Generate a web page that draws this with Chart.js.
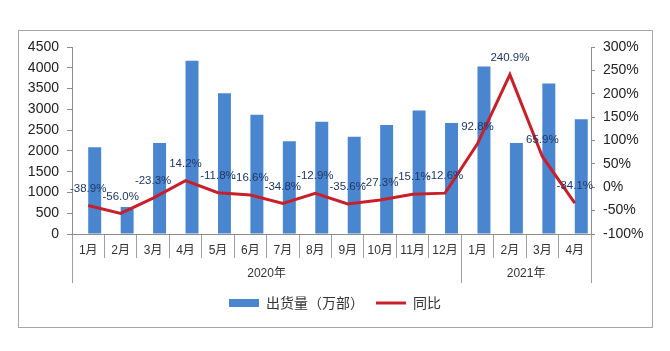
<!DOCTYPE html>
<html>
<head>
<meta charset="utf-8">
<script src="https://cdn.jsdelivr.net/npm/chart.js@4/dist/chart.umd.min.js"></script>
<style>
  body { margin: 0; background: #fff; }
  #wrap { position: relative; width: 670px; height: 351px; }
  #frame { position: absolute; left: 18px; top: 30px; width: 633px; height: 296px; border: 1px solid #a6a6a6; }
  #wrap canvas { position: absolute; left: 0; top: 0; }
</style>
</head>
<body>
<div id="wrap">
  <div id="frame"></div>
  <canvas id="c"></canvas>
</div>
<script>
// du lieu
const months = ["1月","2月","3月","4月","5月","6月","7月","8月","9月","10月","11月","12月","1月","2月","3月","4月"];
const years = ["2020年","2021年"];
const yearSpans = [12, 4];
const shipments = [2090, 650, 2190, 4170, 3390, 2870, 2230, 2700, 2340, 2620, 2970, 2670, 4030, 2190, 3620, 2760];
const yoy = [-38.9, -56.0, -23.3, 14.2, -11.8, -16.6, -34.8, -12.9, -35.6, -27.3, -15.1, -12.6, 92.8, 240.9, 65.9, -34.1];
const spacer = months.map(() => null);

const FONT = "'Liberation Sans', 'Noto Sans CJK SC', sans-serif";
const CJK = "'Noto Sans CJK SC', sans-serif";

// nhan du lieu tren duong
const lineLabels = {
  id: "lineLabels",
  afterDatasetsDraw(chart) {
    const meta = chart.getDatasetMeta(2);
    const ctx = chart.ctx;
    ctx.save();
    ctx.font = "11.5px " + FONT;
    ctx.fillStyle = "#1f3864";
    ctx.textAlign = "center";
    ctx.textBaseline = "middle";
    meta.data.forEach((pt, i) => {
      ctx.fillText(yoy[i].toFixed(1) + "%", pt.x, pt.y - 17);
    });
    ctx.restore();
  }
};

// nhan nam va vach chia
const yearAxis = {
  id: "yearAxis",
  afterDraw(chart) {
    const x = chart.scales.x;
    const ctx = chart.ctx;
    const half = (x.getPixelForValue(1) - x.getPixelForValue(0)) / 2;
    const base = chart.chartArea.bottom;
    ctx.save();
    ctx.strokeStyle = "#a0a0a0";
    ctx.lineWidth = 1;
    ctx.font = "12px " + FONT;
    ctx.fillStyle = "#333";
    ctx.textAlign = "center";
    ctx.textBaseline = "middle";
    let idx = 0;
    const edges = [x.getPixelForValue(0) - half];
    years.forEach((y, k) => {
      const s = x.getPixelForValue(idx) - half;
      const e = x.getPixelForValue(idx + yearSpans[k] - 1) + half;
      edges.push(e);
      ctx.fillText(y, (s + e) / 2, base + 40);
      idx += yearSpans[k];
    });
    edges.forEach(px => {
      ctx.beginPath();
      ctx.moveTo(Math.round(px) + 0.5, base + 24);
      ctx.lineTo(Math.round(px) + 0.5, base + 49);
      ctx.stroke();
    });
    ctx.restore();
  }
};

new Chart(document.getElementById("c"), {
  type: "bar",
  data: {
    labels: months,
    datasets: [
      {
        label: "",
        data: spacer,
        backgroundColor: "rgba(0,0,0,0)",
        order: 1
      },
      {
        label: "出货量（万部）",
        data: shipments,
        backgroundColor: "#4a86cf",
        borderWidth: 0,
        pointStyle: "rect",
        yAxisID: "y",
        order: 1
      },
      {
        type: "line",
        label: "同比",
        data: yoy,
        borderColor: "#c8202a",
        backgroundColor: "#c8202a",
        borderWidth: 3,
        pointRadius: 0,
        pointStyle: "line",
        tension: 0,
        yAxisID: "y1",
        order: 0
      }
    ]
  },
  options: {
    responsive: true,
    maintainAspectRatio: false,
    animation: false,
    datasets: { bar: { categoryPercentage: 0.8, barPercentage: 1.0 } },
    layout: { padding: { top: 47, bottom: 31, left: 0, right: 0 } },
    plugins: {
      tooltip: { enabled: false },
      legend: {
        position: "bottom",
        labels: {
          usePointStyle: true,
          pointStyleWidth: 30,
          boxHeight: 8,
          padding: 12,
          color: "#333",
          font: { family: CJK, size: 14 },
          filter: item => item.text !== "",
          sort: (a, b) => a.datasetIndex - b.datasetIndex
        }
      }
    },
    scales: {
      x: {
        offset: true,
        grid: {
          display: true,
          offset: true,
          drawOnChartArea: false,
          tickLength: 24,
          color: "#a0a0a0"
        },
        border: { color: "#8c8c8c" },
        ticks: {
          padding: -15,
          color: "#333",
          maxRotation: 0,
          autoSkip: false,
          font: { family: FONT, size: 12 }
        },
        afterFit(s) { s.height = 50; }
      },
      y: {
        position: "left",
        min: 0,
        max: 4500,
        ticks: {
          stepSize: 500,
          padding: 8,
          color: "#222",
          font: { family: FONT, size: 14 },
          callback: v => String(v)
        },
        grid: { drawOnChartArea: false, tickLength: 5, color: "#8c8c8c" },
        border: { color: "#8c8c8c" },
        afterFit(s) { s.width = 72; }
      },
      y1: {
        position: "right",
        min: -100,
        max: 300,
        ticks: {
          stepSize: 50,
          padding: 8,
          color: "#222",
          font: { family: FONT, size: 14 },
          callback: v => v + "%"
        },
        grid: { drawOnChartArea: false, tickLength: 4, color: "#8c8c8c" },
        border: { color: "#8c8c8c" },
        afterFit(s) { s.width = 79; }
      }
    }
  },
  plugins: [lineLabels, yearAxis]
});
</script>
</body>
</html>
